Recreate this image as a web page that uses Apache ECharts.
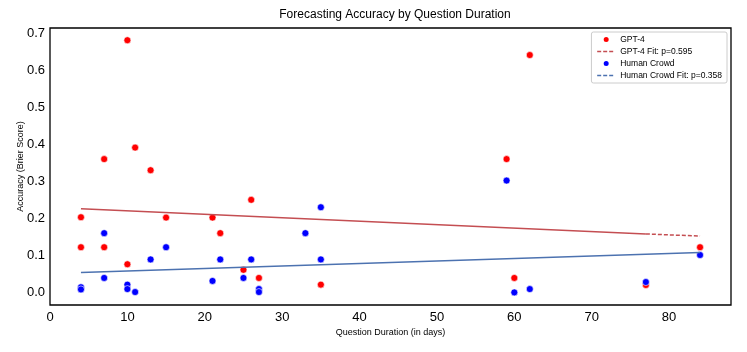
<!DOCTYPE html>
<html><head><meta charset="utf-8">
<script src="https://cdn.jsdelivr.net/npm/echarts@6/dist/echarts.min.js"></script>
<style>html,body{margin:0;padding:0;background:#fff}#c{width:747px;height:352px}</style>
</head><body><div id="c"></div>
<script>
const gptX = [4,4,7,7,10,10,11,13,15,21,22,25,26,27,35,59,60,62,77,84];
const gptY = [0.203,0.122,0.36,0.122,0.681,0.076,0.391,0.33,0.202,0.202,0.16,0.061,0.25,0.039,0.021,0.36,0.039,0.641,0.02,0.122];
const humanX = [4,4,7,7,10,10,11,13,15,21,22,25,26,27,27,33,35,35,59,60,62,77,84];
const humanY = [0.014,0.008,0.16,0.039,0.021,0.009,0.001,0.089,0.122,0.031,0.089,0.039,0.089,0.009,0.001,0.16,0.23,0.089,0.302,0.0,0.009,0.028,0.101];
// fit line endpoints
const gptFitX = [4,77,84];
const gptFitY = [0.226,0.158,0.152];
const humanFitX = [4,84];
const humanFitY = [0.054,0.108];
const xTicks = [0,10,20,30,40,50,60,70,80];
const yTicks = [0,0.1,0.2,0.3,0.4,0.5,0.6,0.7];

const pts = (xs, ys) => xs.map((x,i)=>[x, ys[i]]);
const font = 'Liberation Sans, Arial, sans-serif';
const hide = {color:'rgba(0,0,0,0)', borderWidth:0, opacity:0};
const chart = echarts.init(document.getElementById('c'), null, {renderer:'canvas'});
chart.setOption({
  animation:false,
  backgroundColor:'#fff',
  title:{text:'Forecasting Accuracy by Question Duration', left:390, textAlign:'center', top:4,
    textStyle:{fontFamily:font, fontSize:12, fontWeight:'normal', color:'#000'}},
  grid:{left:50, right:16, top:28, bottom:47, show:true, borderColor:'#000', borderWidth:1.3},
  legend:{
    orient:'vertical', right:20, top:32, itemWidth:18, itemHeight:7, itemGap:3,
    padding:[3,5], borderColor:'#ccc', borderWidth:1, borderRadius:2, backgroundColor:'#fff',
    textStyle:{fontFamily:font, fontSize:8.5, color:'#000'},
    data:[
      {name:'GPT-4', icon:'circle'},
      {name:'GPT-4 Fit: p=0.595', itemStyle:hide, lineStyle:{type:[4,2], width:1.5}},
      {name:'Human Crowd', icon:'circle'},
      {name:'Human Crowd Fit: p=0.358', itemStyle:hide, lineStyle:{type:[4,2], width:1.5}}
    ]
  },
  xAxis:{type:'value', min:0, max:88,
    name:'Question Duration (in days)', nameLocation:'middle', nameGap:23, nameMoveOverlap:false,
    nameTextStyle:{fontFamily:font, fontSize:9, color:'#000'},
    axisLine:{show:false}, axisTick:{show:false}, splitLine:{show:false},
    axisLabel:{customValues:xTicks, fontFamily:font, fontSize:13, color:'#000', margin:6}
  },
  yAxis:{type:'value', min:-0.034, max:0.714,
    name:'Accuracy (Brier Score)', nameLocation:'middle', nameGap:25, nameMoveOverlap:false,
    nameTextStyle:{fontFamily:font, fontSize:9, color:'#000'},
    axisLine:{show:false}, axisTick:{show:false}, splitLine:{show:false},
    axisLabel:{customValues:yTicks, formatter:v=>v.toFixed(1), fontFamily:font, fontSize:13, color:'#000', margin:5}
  },
  series:[
    {name:'GPT-4', type:'scatter', data:pts(gptX,gptY), symbolSize:7, z:2,
     itemStyle:{color:'#ff0000', borderColor:'#fff', borderWidth:0.6, opacity:1}},
    {name:'gptFitSolid', type:'line', data:pts(gptFitX.slice(0,2),gptFitY.slice(0,2)), symbol:'none', z:3,
     lineStyle:{color:'#c44e52', width:1.5}, silent:true},
    {name:'GPT-4 Fit: p=0.595', type:'line', data:pts(gptFitX.slice(1),gptFitY.slice(1)), symbol:'none', z:3,
     itemStyle:{color:'#c44e52'}, lineStyle:{color:'#c44e52', width:1.5, type:[4,2]}},
    {name:'Human Crowd', type:'scatter', data:pts(humanX,humanY), symbolSize:7, z:4,
     itemStyle:{color:'#0000ff', borderColor:'#fff', borderWidth:0.6, opacity:1}},
    {name:'Human Crowd Fit: p=0.358', type:'line', data:pts(humanFitX,humanFitY), symbol:'none', z:5,
     itemStyle:{color:'#4c72b0'}, lineStyle:{color:'#4c72b0', width:1.5}}
  ]
});
</script></body></html>
